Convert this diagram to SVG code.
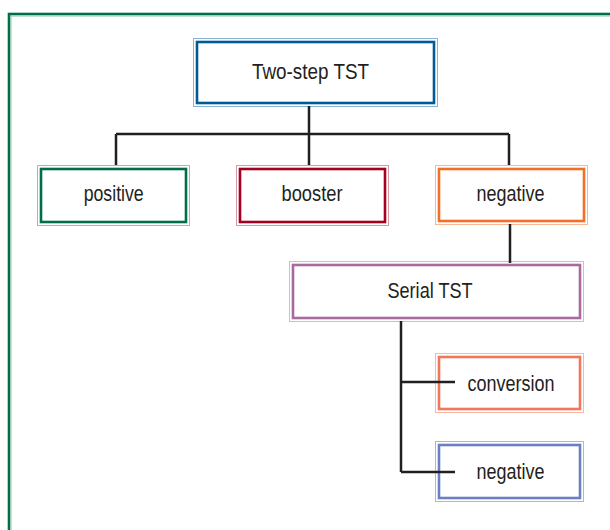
<svg xmlns="http://www.w3.org/2000/svg" width="610" height="530" viewBox="0 0 610 530">
<style>
.o{fill:#fff;stroke-width:1}
.i{fill:none;stroke-width:2.6}
.t{font-family:"Liberation Sans",Arial,sans-serif;font-size:22px;fill:#231f20;text-anchor:middle}
.c{fill:none;stroke:#231f20;stroke-width:2.5}
</style>
<rect width="610" height="530" fill="#fff"/>
<g id="frame">
<rect x="9" y="14" width="620" height="530" fill="none" stroke="#006e46" stroke-width="2.6"/>
<rect x="11" y="16" width="620" height="530" fill="none" stroke="#8cc7a8" stroke-width="1"/>
</g>
<g id="n-twostep">
<rect class="o" x="193.5" y="38.5" width="244" height="68" stroke="#8ab4d4"/>
<rect class="i" x="197" y="42" width="237" height="61" stroke="#005a96"/>
<text class="t" x="310.5" y="79" textLength="117" lengthAdjust="spacingAndGlyphs">Two-step TST</text>
</g>
<g id="n-positive">
<rect class="o" x="37.5" y="165.5" width="152" height="60" stroke="#8cc7a8"/>
<rect class="i" x="41" y="169" width="145" height="53" stroke="#006e46"/>
<text class="t" x="113.7" y="201" textLength="60" lengthAdjust="spacingAndGlyphs">positive</text>
</g>
<g id="n-booster">
<rect class="o" x="236.5" y="165.5" width="152" height="60" stroke="#d89aa2"/>
<rect class="i" x="240" y="169" width="145" height="53" stroke="#a50021"/>
<text class="t" x="312" y="201" textLength="61" lengthAdjust="spacingAndGlyphs">booster</text>
</g>
<g id="n-negative1">
<rect class="o" x="435.5" y="165.5" width="152" height="59" stroke="#f8b896"/>
<rect class="i" x="439" y="169" width="145" height="52" stroke="#f26f2a"/>
<text class="t" x="510.5" y="201" textLength="68" lengthAdjust="spacingAndGlyphs">negative</text>
</g>
<g id="n-serial">
<rect class="o" x="289.5" y="261.5" width="294" height="60" stroke="#dab6d6"/>
<rect class="i" x="293" y="265" width="287" height="53" stroke="#a8699e"/>
<text class="t" x="430" y="297.5" textLength="85" lengthAdjust="spacingAndGlyphs">Serial TST</text>
</g>
<g id="n-conversion">
<rect class="o" x="435.5" y="353.5" width="148" height="59" stroke="#f8b8a6"/>
<rect class="i" x="439" y="357" width="141" height="52" stroke="#f2765a"/>
<text class="t" x="511" y="390.5" textLength="87" lengthAdjust="spacingAndGlyphs">conversion</text>
</g>
<g id="n-negative2">
<rect class="o" x="435.5" y="441.5" width="148" height="60" stroke="#a8b6e2"/>
<rect class="i" x="439" y="445" width="141" height="53" stroke="#6a7fc4"/>
<text class="t" x="510.5" y="479" textLength="68" lengthAdjust="spacingAndGlyphs">negative</text>
</g>
<g id="connectors">
<path class="c" d="M309 106V134M116 134H509M116 134V165M309 134V165M509 134V165"/>
<path class="c" d="M510 224V263"/>
<path class="c" d="M401 321V472M401 382H455M401 472H455"/>
</g>
</svg>
